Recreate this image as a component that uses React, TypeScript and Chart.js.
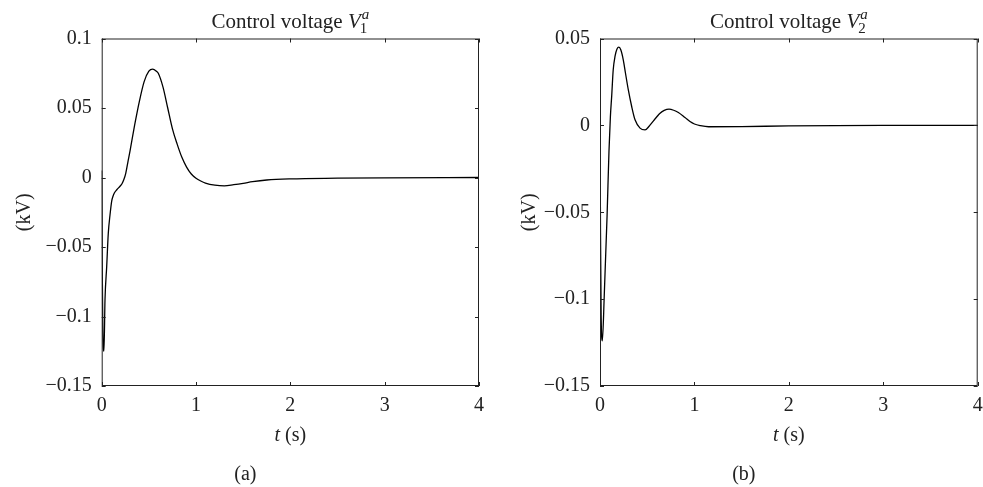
import React, { useEffect, useRef } from "react";
import { Chart, registerables } from "chart.js";

Chart.register(...registerables);

// ---- Data ----
const t1 = [0, 0.005, 0.012, 0.024, 0.035, 0.053, 0.07, 0.088, 0.106, 0.12, 0.134, 0.16, 0.194, 0.215, 0.235, 0.255, 0.28, 0.3, 0.35, 0.4, 0.45, 0.5, 0.54, 0.58, 0.6, 0.65, 0.7, 0.75, 0.8, 0.85, 0.9, 0.95, 1.0, 1.05, 1.1, 1.2, 1.3, 1.4, 1.5, 1.6, 1.75, 2.0, 2.5, 3.0, 4.0];
const v1 = [0.005, -0.06, -0.11, -0.125, -0.088, -0.064, -0.04, -0.027, -0.017, -0.0135, -0.0112, -0.0088, -0.0063, -0.0045, -0.0015, 0.003, 0.012, 0.019, 0.038, 0.055, 0.069, 0.0765, 0.078, 0.0765, 0.075, 0.065, 0.05, 0.035, 0.024, 0.0145, 0.0075, 0.0025, -0.0005, -0.0025, -0.004, -0.0055, -0.006, -0.0052, -0.0042, -0.003, -0.0018, -0.001, -0.0005, -0.0002, 0];

const t2 = [0, 0.005, 0.012, 0.025, 0.045, 0.075, 0.095, 0.11, 0.124, 0.14, 0.16, 0.18, 0.2, 0.22, 0.247, 0.27, 0.3, 0.335, 0.371, 0.424, 0.477, 0.52, 0.547, 0.6, 0.636, 0.68, 0.731, 0.78, 0.83, 0.9, 0.953, 1.0, 1.06, 1.15, 1.5, 2.0, 3.0, 4.0];
const v2 = [0.0166, -0.06, -0.11, -0.124, -0.098, -0.052, -0.015, 0.005, 0.017, 0.032, 0.04, 0.044, 0.045, 0.0435, 0.0376, 0.03, 0.0204, 0.011, 0.0032, -0.0016, -0.0026, -0.0005, 0.0013, 0.0048, 0.007, 0.0086, 0.0093, 0.0087, 0.0074, 0.0045, 0.0022, 0.0008, -0.0001, -0.0008, -0.0007, -0.0003, 0, 0];

const xTicks = [0, 1, 2, 3, 4];
const yTicks1 = [-0.15, -0.1, -0.05, 0, 0.05, 0.1];
const yTicks2 = [-0.15, -0.1, -0.05, 0, 0.05];

const FONT = "'Liberation Serif', 'Times New Roman', serif";
const INK = "#222";

function fmt(v: number): string {
  const r = Math.round(v * 100) / 100;
  if (r === 0) return "0";
  return String(r).replace("-", "\u2212");
}

const framePlugin = {
  id: "frame",
  afterDatasetsDraw(chart: any, _args: any, opts: any) {
    const { ctx, chartArea } = chart;
    const { left, right, top, bottom } = chartArea;
    const xs = chart.scales.x;
    const ys = chart.scales.y;
    ctx.save();
    ctx.strokeStyle = INK;
    ctx.lineWidth = 1;
    ctx.strokeRect(left + 0.5, top + 0.5, right - left - 1, bottom - top - 1);
    const tl = 4;
    ctx.beginPath();
    xs.ticks.forEach((tk: any) => {
      const px = Math.round(xs.getPixelForValue(tk.value)) + 0.5;
      ctx.moveTo(px, bottom);
      ctx.lineTo(px, bottom - tl);
      ctx.moveTo(px, top);
      ctx.lineTo(px, top + tl);
    });
    ys.ticks.forEach((tk: any) => {
      const py = Math.round(ys.getPixelForValue(tk.value)) + 0.5;
      ctx.moveTo(left, py);
      ctx.lineTo(left + tl, py);
      ctx.moveTo(right, py);
      ctx.lineTo(right - tl, py);
    });
    ctx.stroke();

    ctx.fillStyle = INK;
    const cx = (left + right) / 2;
    // Title: "Control voltage V_n^a"
    const main = "Control voltage ";
    ctx.font = `21px ${FONT}`;
    const wMain = ctx.measureText(main).width;
    ctx.font = `italic 21px ${FONT}`;
    const wV = ctx.measureText("V").width;
    ctx.font = `15px ${FONT}`;
    const wSub = ctx.measureText(opts.sub).width;
    ctx.font = `italic 15px ${FONT}`;
    const wSup = ctx.measureText("a").width;
    const total = wMain + wV + 1 + Math.max(wSub, wSup);
    let x0 = cx - total / 2;
    const by = 28;
    ctx.textBaseline = "alphabetic";
    ctx.textAlign = "left";
    ctx.font = `21px ${FONT}`;
    ctx.fillText(main, x0, by);
    x0 += wMain;
    ctx.font = `italic 21px ${FONT}`;
    ctx.fillText("V", x0, by);
    x0 += wV + 1;
    ctx.font = `italic 15px ${FONT}`;
    ctx.fillText("a", x0, by - 9);
    ctx.font = `15px ${FONT}`;
    ctx.fillText(opts.sub, x0 - 2, by + 5);

    // x-axis title "t (s)"
    ctx.font = `italic 20px ${FONT}`;
    const wt = ctx.measureText("t").width;
    ctx.font = `20px ${FONT}`;
    const ws = ctx.measureText(" (s)").width;
    const xt = cx - (wt + ws) / 2;
    ctx.font = `italic 20px ${FONT}`;
    ctx.fillText("t", xt, 441);
    ctx.font = `20px ${FONT}`;
    ctx.fillText(" (s)", xt + wt, 441);

    // caption
    ctx.textAlign = "center";
    ctx.fillText(opts.caption, cx - 45, 480);

    // y-axis title
    ctx.save();
    ctx.translate(left - opts.yTitleOffset, (top + bottom) / 2);
    ctx.rotate(-Math.PI / 2);
    ctx.textAlign = "center";
    ctx.textBaseline = "middle";
    ctx.font = `20px ${FONT}`;
    ctx.fillText("(kV)", 0, 0);
    ctx.restore();

    ctx.restore();
  },
};

function makeConfig(
  ts: number[],
  vs: number[],
  yTicks: number[],
  yMin: number,
  yMax: number,
  yWidth: number,
  padRight: number,
  sub: string,
  caption: string,
  yTitleOffset: number
): any {
  return {
    type: "line",
    data: {
      datasets: [
        {
          data: ts.map((t, i) => ({ x: t, y: vs[i] })),
          borderColor: "#000",
          borderWidth: 1.3,
          pointRadius: 0,
          cubicInterpolationMode: "monotone",
          fill: false,
        },
      ],
    },
    plugins: [framePlugin],
    options: {
      responsive: false,
      animation: false,
      events: [],
      layout: { padding: { top: 38.5, left: 0, right: padRight, bottom: 71 } },
      plugins: {
        legend: { display: false },
        tooltip: { enabled: false },
        title: { display: false },
        frame: { sub, caption, yTitleOffset },
      },
      scales: {
        x: {
          type: "linear",
          min: 0,
          max: 4,
          grid: { display: false, drawTicks: false },
          border: { display: false },
          afterFit: (s: any) => {
            s.height = 30;
            s.paddingLeft = 0;
            s.paddingRight = 0;
          },
          afterBuildTicks: (s: any) => {
            s.ticks = xTicks.map((v) => ({ value: v }));
          },
          ticks: {
            autoSkip: false,
            maxRotation: 0,
            padding: 8,
            color: INK,
            font: { family: FONT, size: 20 },
            callback: (v: any) => fmt(Number(v)),
          },
        },
        y: {
          type: "linear",
          min: yMin,
          max: yMax,
          grid: { display: false, drawTicks: false },
          border: { display: false },
          afterFit: (s: any) => {
            s.width = yWidth;
            s.paddingTop = 0;
            s.paddingBottom = 0;
          },
          afterBuildTicks: (s: any) => {
            s.ticks = yTicks.map((v) => ({ value: v }));
          },
          ticks: {
            autoSkip: false,
            padding: 10,
            color: INK,
            font: { family: FONT, size: 20 },
            callback: (v: any) => fmt(Number(v)),
          },
        },
      },
    },
  };
}

function Panel(props: { cfg: any; left: number; width: number }) {
  const ref = useRef<HTMLCanvasElement | null>(null);
  useEffect(() => {
    if (!ref.current) return;
    const chart = new Chart(ref.current, props.cfg);
    return () => chart.destroy();
  }, []);
  return (
    <canvas
      ref={ref}
      width={props.width}
      height={487}
      style={{ position: "absolute", left: props.left, top: 0, width: props.width, height: 487 }}
    />
  );
}

export default function App() {
  const cfgA = makeConfig(t1, v1, yTicks1, -0.15, 0.1, 101.7, 12, "1", "(a)", 77);
  const cfgB = makeConfig(t2, v2, yTicks2, -0.15, 0.05, 109, 5.3, "2", "(b)", 70);
  return (
    <div style={{ position: "absolute", left: 0, top: 0, width: 983, height: 487, background: "#fff" }}>
      <Panel cfg={cfgA} left={0} width={491} />
      <Panel cfg={cfgB} left={491} width={492} />
    </div>
  );
}
